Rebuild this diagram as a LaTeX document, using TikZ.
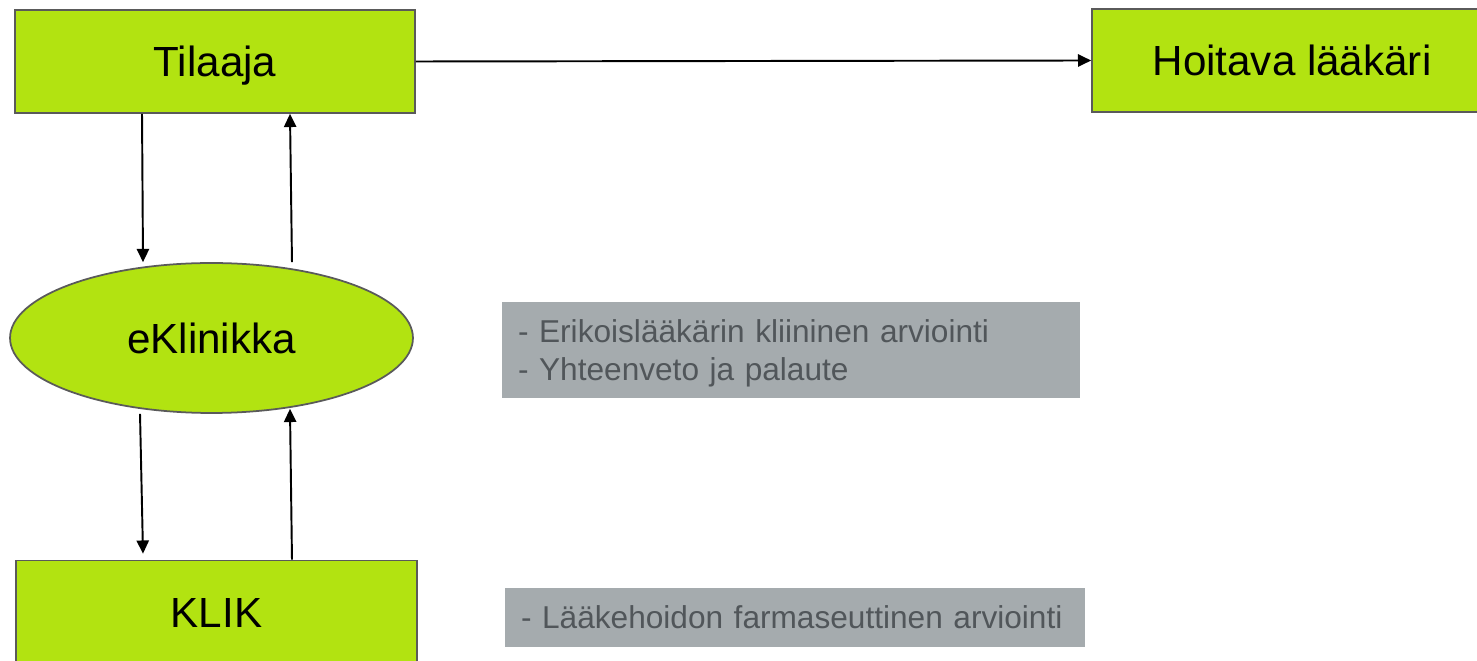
\documentclass[tikz,border=0pt]{standalone}
\usepackage{fontspec}
\setmainfont{Liberation Sans}
\usepackage{xcolor}
\usepackage{tikz}
\usetikzlibrary{arrows.meta, shapes.geometric}

\definecolor{limegreen}{HTML}{B2E311}
\definecolor{boxborder}{HTML}{5A5A5A}
\definecolor{notefill}{HTML}{A5ABAE}
\definecolor{notetext}{HTML}{51565A}

\begin{document}
\begin{tikzpicture}[
    x=0.02cm, y=-0.02cm,
    every node/.style={font=\fontsize{24}{28}\selectfont},
    actor/.style={draw=boxborder, line width=1pt, fill=limegreen, inner sep=0pt,
      minimum width=8cm, minimum height=2.06cm, text height=17.2pt, text depth=0pt},
    clinic/.style={ellipse, draw=boxborder, line width=1pt, fill=limegreen, inner sep=0pt,
      minimum width=8.06cm, minimum height=3cm, text height=17.2pt, text depth=0pt},
    note/.style={fill=notefill, text=notetext, inner xsep=0.32cm, inner ysep=0pt,
      align=left, font=\fontsize{18}{21.6}\selectfont},
    flow/.style={-{Triangle[width=7pt,length=7.5pt]}, line width=1.1pt},
  ]
  \useasboundingbox (0,0) rectangle (1477,661);

  % ── Parties ─────────────────────────────────────────────────────────────
  \node[actor] (tilaaja) at (215, 61.5) {Tilaaja};
  \node[actor] (hoitava) at (1292, 60.5) {Hoitava lääkäri};
  \node[clinic] (eklinikka) at (211.5, 338) {eKlinikka};
  \node[actor, minimum width=8.02cm] (klik) at (216.5, 612) {KLIK};

  % ── Tasks (grey notes) ──────────────────────────────────────────────────
  \node[note, text width=10.92cm, minimum height=1.92cm, text height=17pt] (arvio) at (791, 350)
    {- Erikoislääkärin kliininen arviointi\\- Yhteenveto ja palaute};
  \node[note, text width=10.96cm, minimum height=1.18cm] (farma) at (795, 617.5)
    {- Lääkehoidon farmaseuttinen arviointi};

  % ── Flows ───────────────────────────────────────────────────────────────
  \draw[flow] (tilaaja.east) -- (hoitava.west);
  \draw[flow] ([xshift=-1.46cm]tilaaja.south) -- ([xshift=-1.37cm]eklinikka.north);
  \draw[flow] ([xshift=1.61cm]eklinikka.north) -- ([xshift=1.5cm]tilaaja.south);
  \draw[flow] ([xshift=-1.43cm]eklinikka.south) -- ([xshift=-1.47cm, yshift=0.12cm]klik.north);
  \draw[flow] ([xshift=1.51cm]klik.north) -- ([xshift=1.57cm, yshift=0.1cm]eklinikka.south);

\end{tikzpicture}
\end{document}
